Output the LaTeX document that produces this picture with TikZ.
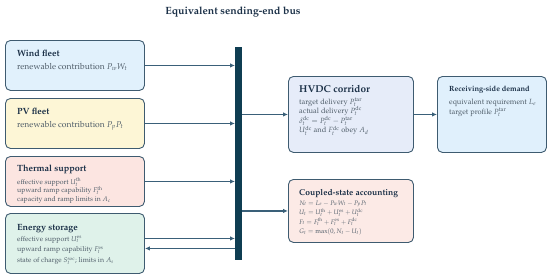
\documentclass[tikz,border=0pt]{standalone}
\usepackage[T1]{fontenc}
\usepackage{mathpazo}
\usetikzlibrary{arrows.meta,calc}
\definecolor{ink}{HTML}{1C3148}
\definecolor{body}{HTML}{4E5C68}
\definecolor{edge}{HTML}{3E5B70}
\definecolor{busc}{HTML}{0F3D52}
\definecolor{arr}{HTML}{3A6079}
\definecolor{windf}{HTML}{E1F1FC}
\definecolor{pvf}{HTML}{FDF6D6}
\definecolor{thf}{HTML}{FCE5E1}
\definecolor{esf}{HTML}{DFF2EA}
\definecolor{hvf}{HTML}{E6ECF9}
\definecolor{rcf}{HTML}{E0F0FC}
\definecolor{cpf}{HTML}{FCEAE6}
\newcommand{\mylines}[1]{\begin{tabular}[t]{@{}l@{}}#1\end{tabular}}
\tikzset{
  box/.style={draw=edge, line width=0.9pt, rounded corners=5pt, inner sep=0pt, anchor=north west},
  ttl/.style={anchor=base west, inner sep=0pt, text=ink, font=\bfseries\fontsize{9}{10}\selectfont},
  txt/.style={anchor=base west, inner sep=0pt, text=body},
  conn/.style={draw=arr, line width=1.1pt, -{Latex[length=5pt,width=4.5pt]}}
}
\begin{document}
\begin{tikzpicture}[x=1pt,y=-1pt]
\useasboundingbox (0,0) rectangle (550,279);
\node[anchor=base, inner sep=0pt, text=ink, font=\bfseries\fontsize{10.5}{12}\selectfont] (title) at (233,14) {Equivalent sending-end bus};
% bus
\node[fill=busc, inner sep=0pt, minimum width=6.5pt, minimum height=213pt, anchor=north west] (bus) at (235,47) {};
% left boxes
\node[box, fill=windf, minimum width=139pt, minimum height=50pt] (wind) at (5,40) {};
\node[ttl] (windt) at (17,56) {Wind fleet};
\node[txt, font=\fontsize{8.5}{10}\selectfont] (windb) at (17,69) {renewable contribution $P_wW_t$};
\node[box, fill=pvf, minimum width=139pt, minimum height=50pt] (pv) at (5,98) {};
\node[ttl] (pvt) at (17,114) {PV fleet};
\node[txt, font=\fontsize{8.5}{10}\selectfont] (pvb) at (17,127) {renewable contribution $P_pP_t$};
\node[box, fill=thf, minimum width=139pt, minimum height=50pt] (th) at (5,156) {};
\node[ttl] (tht) at (17,171) {Thermal support};
\node[txt, font=\fontsize{6.9}{8.3}\selectfont] (thb) at (17,184) {\mylines{effective support $U_t^{\mathrm{th}}$\\upward ramp capability $F_t^{\mathrm{th}}$\\capacity and ramp limits in $A_c$}};
\node[box, fill=esf, minimum width=139pt, minimum height=60pt] (es) at (5,213) {};
\node[ttl] (est) at (17,230) {Energy storage};
\node[txt, font=\fontsize{7}{10.8}\selectfont] (esb) at (17,241) {\mylines{effective support $U_t^{\mathrm{es}}$\\upward ramp capability $F_t^{\mathrm{es}}$\\state of charge $S_t^{\mathrm{soc}}$; limits in $A_s$}};
% right boxes
\node[box, fill=hvf, minimum width=125pt, minimum height=76pt] (hv) at (288,76) {};
\node[ttl, font=\bfseries\fontsize{10}{11}\selectfont] (hvt) at (299,92) {HVDC corridor};
\node[txt, font=\fontsize{7.5}{9.2}\selectfont] (hvb) at (299,104) {\mylines{target delivery $P_t^{\mathrm{tar}}$\\actual delivery $P_t^{\mathrm{dc}}$\\$\delta_t^{\mathrm{dc}}=P_t^{\mathrm{dc}}-P_t^{\mathrm{tar}}$\\$U_t^{\mathrm{dc}}$ and $F_t^{\mathrm{dc}}$ obey $A_d$}};
\node[box, fill=rcf, minimum width=109pt, minimum height=76pt] (rc) at (437,76) {};
\node[ttl, font=\bfseries\fontsize{7.5}{9}\selectfont] (rct) at (449,91) {Receiving-side demand};
\node[txt, font=\fontsize{7.5}{10}\selectfont] (rcb) at (449,104) {\mylines{equivalent requirement $L_e$\\target profile $P_t^{\mathrm{tar}}$}};
\node[box, fill=cpf, minimum width=125pt, minimum height=63pt] (cp) at (288,179) {};
\node[ttl, font=\bfseries\fontsize{8.5}{10}\selectfont] (cpt) at (299,195) {Coupled-state accounting};
\node[txt, font=\fontsize{6.5}{9.5}\selectfont] (cpb) at (299,205) {\mylines{$N_t=L_e-P_wW_t-P_pP_t$\\$U_t=U_t^{\mathrm{th}}+U_t^{\mathrm{es}}+U_t^{\mathrm{dc}}$\\$F_t=F_t^{\mathrm{th}}+F_t^{\mathrm{es}}+F_t^{\mathrm{dc}}$\\$G_t=\max(0,N_t-U_t)$}};
% connectors
\draw[conn] (wind.east) -- (wind.east -| bus.west);
\draw[conn] (pv.east) -- (pv.east -| bus.west);
\draw[conn] (th.east) -- (th.east -| bus.west);
\draw[conn] ([yshift=5pt]es.east) -- ([yshift=5pt]es.east -| bus.west);
\draw[conn] ([yshift=-5pt]es.east -| bus.west) -- ([yshift=-5pt]es.east);
\draw[conn] (hv.west -| bus.east) -- (hv.west);
\draw[conn] (cp.west -| bus.east) -- (cp.west);
\draw[conn] (hv.east) -- (rc.west);
\end{tikzpicture}
\end{document}
